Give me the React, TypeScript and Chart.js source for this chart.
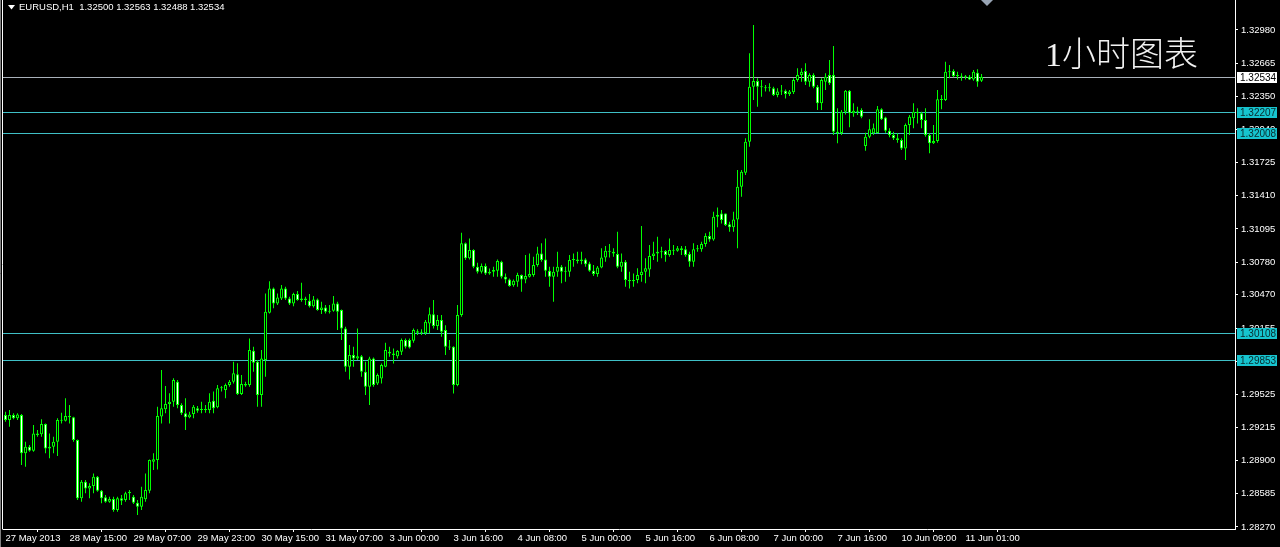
import React, { useEffect, useRef } from "react";
import { Chart, registerables } from "chart.js";

Chart.register(...registerables);

// ---------- data ----------
const symbolTitle = "EURUSD,H1";
const lastQuote = ["1.32500", "1.32563", "1.32488", "1.32534"];
const overlayTitle = "1小时图表";

const opens = [
  1.29331, 1.29284, 1.29331, 1.29300, 1.29331, 1.28968, 1.29031, 1.28993, 1.29157, 1.29149,
  1.29246, 1.29015, 1.29031, 1.29079, 1.29284, 1.29278, 1.29322, 1.29309, 1.29094, 1.28542,
  1.28699, 1.28636, 1.28658, 1.28747, 1.28614, 1.28551, 1.28510, 1.28535, 1.28431, 1.28542,
  1.28526, 1.28589, 1.28557, 1.28500, 1.28462, 1.28532, 1.28614, 1.28889, 1.28905, 1.29316,
  1.29385, 1.29436, 1.29458, 1.29647, 1.29426, 1.29347, 1.29309, 1.29340, 1.29395, 1.29379,
  1.29385, 1.29379, 1.29467, 1.29404, 1.29584, 1.29569, 1.29616, 1.29647, 1.29717, 1.29530,
  1.29625, 1.29615, 1.29941, 1.29836, 1.29520, 1.29852, 1.30301, 1.30531, 1.30389, 1.30436,
  1.30531, 1.30436, 1.30389, 1.30478, 1.30421, 1.30436, 1.30414, 1.30363, 1.30427, 1.30326,
  1.30351, 1.30310, 1.30320, 1.30389, 1.30326, 1.30152, 1.29789, 1.29899, 1.29868, 1.29889,
  1.29741, 1.29599, 1.29868, 1.29630, 1.29678, 1.29789, 1.29931, 1.29915, 1.29889, 1.29931,
  1.30041, 1.30041, 1.30035, 1.30126, 1.30111, 1.30105, 1.30199, 1.30285, 1.30174, 1.30231,
  1.30136, 1.29978, 1.29978, 1.29615, 1.30278, 1.30958, 1.30816, 1.30895, 1.30737, 1.30689,
  1.30743, 1.30673, 1.30689, 1.30699, 1.30784, 1.30642, 1.30616, 1.30560, 1.30594, 1.30658,
  1.30616, 1.30642, 1.30658, 1.30752, 1.30863, 1.30806, 1.30699, 1.30642, 1.30689, 1.30737,
  1.30689, 1.30689, 1.30800, 1.30806, 1.30790, 1.30806, 1.30768, 1.30699, 1.30667, 1.30730,
  1.30825, 1.30889, 1.30879, 1.30857, 1.30737, 1.30784, 1.30610, 1.30600, 1.30610, 1.30658,
  1.30689, 1.30711, 1.30838, 1.30863, 1.30879, 1.30885, 1.30847, 1.30895, 1.30889, 1.30911,
  1.30901, 1.30857, 1.30784, 1.30901, 1.30901, 1.30952, 1.31027, 1.30995, 1.31211, 1.31242,
  1.31240, 1.31140, 1.31110, 1.31185, 1.31495, 1.31628, 1.31922, 1.32443, 1.32497, 1.32443,
  1.32437, 1.32427, 1.32427, 1.32364, 1.32396, 1.32405, 1.32374, 1.32390, 1.32506, 1.32554,
  1.32591, 1.32490, 1.32554, 1.32443, 1.32285, 1.32490, 1.32554, 1.32554, 1.32016, 1.32005,
  1.32206, 1.32405, 1.32190, 1.32214, 1.32222, 1.31880, 1.31969, 1.32001, 1.32005, 1.32228,
  1.32151, 1.32026, 1.31985, 1.31953, 1.31937, 1.31858, 1.32080, 1.32143, 1.32206, 1.32190,
  1.32127, 1.31985, 1.31906, 1.31927, 1.32323, 1.32317, 1.32585, 1.32591, 1.32550, 1.32544,
  1.32538, 1.32538, 1.32512, 1.32575, 1.32500,
];

const highs = [
  1.29363, 1.29379, 1.29347, 1.29347, 1.29340, 1.29079, 1.29047, 1.29236, 1.29189, 1.29290,
  1.29252, 1.29157, 1.29126, 1.29300, 1.29353, 1.29489, 1.29426, 1.29315, 1.29100, 1.28715,
  1.28715, 1.28684, 1.28778, 1.28753, 1.28620, 1.28573, 1.28557, 1.28557, 1.28557, 1.28573,
  1.28605, 1.28620, 1.28573, 1.28526, 1.28652, 1.28778, 1.28910, 1.28968, 1.29410, 1.29758,
  1.29606, 1.29537, 1.29679, 1.29663, 1.29442, 1.29489, 1.29363, 1.29426, 1.29417, 1.29458,
  1.29426, 1.29537, 1.29553, 1.29616, 1.29606, 1.29631, 1.29663, 1.29837, 1.29821, 1.29710,
  1.29647, 1.30057, 1.29978, 1.29852, 1.29947, 1.30484, 1.30600, 1.30540, 1.30484, 1.30563,
  1.30547, 1.30452, 1.30490, 1.30506, 1.30585, 1.30452, 1.30478, 1.30458, 1.30436, 1.30405,
  1.30373, 1.30373, 1.30458, 1.30405, 1.30332, 1.30168, 1.29994, 1.29978, 1.30152, 1.29899,
  1.29836, 1.29883, 1.29877, 1.29725, 1.29820, 1.30016, 1.29978, 1.29962, 1.29947, 1.30057,
  1.30057, 1.30057, 1.30152, 1.30143, 1.30143, 1.30231, 1.30351, 1.30421, 1.30278, 1.30278,
  1.30183, 1.30041, 1.29984, 1.30373, 1.31059, 1.30965, 1.31005, 1.30901, 1.30775, 1.30768,
  1.30768, 1.30720, 1.30737, 1.30806, 1.30793, 1.30673, 1.30626, 1.30616, 1.30680, 1.30664,
  1.30847, 1.30863, 1.30831, 1.30926, 1.30958, 1.31005, 1.30737, 1.30737, 1.30879, 1.30752,
  1.30737, 1.30847, 1.30863, 1.30879, 1.30879, 1.30816, 1.30784, 1.30752, 1.30743, 1.30911,
  1.30933, 1.30952, 1.30911, 1.31068, 1.30863, 1.30800, 1.30689, 1.30673, 1.30721, 1.31122,
  1.30816, 1.30942, 1.30974, 1.31021, 1.30926, 1.30895, 1.31005, 1.30942, 1.30933, 1.30933,
  1.30933, 1.30879, 1.30958, 1.30942, 1.30974, 1.31053, 1.31068, 1.31258, 1.31299, 1.31274,
  1.31242, 1.31163, 1.31258, 1.31653, 1.31653, 1.31953, 1.32759, 1.33028, 1.32522, 1.32506,
  1.32459, 1.32475, 1.32443, 1.32427, 1.32459, 1.32417, 1.32411, 1.32522, 1.32617, 1.32617,
  1.32664, 1.32569, 1.32569, 1.32459, 1.32522, 1.32569, 1.32696, 1.32829, 1.32238, 1.32222,
  1.32411, 1.32411, 1.32285, 1.32253, 1.32238, 1.32007, 1.32135, 1.32095, 1.32260, 1.32238,
  1.32159, 1.32048, 1.32016, 1.32001, 1.31953, 1.32095, 1.32175, 1.32285, 1.32238, 1.32206,
  1.32238, 1.32001, 1.32080, 1.32411, 1.32364, 1.32680, 1.32648, 1.32607, 1.32585, 1.32569,
  1.32554, 1.32554, 1.32601, 1.32607, 1.32563,
];

const lows = [
  1.29268, 1.29221, 1.29290, 1.29284, 1.28857, 1.28841, 1.28984, 1.28984, 1.29126, 1.29126,
  1.28968, 1.28921, 1.28968, 1.28943, 1.29252, 1.29270, 1.29252, 1.29079, 1.28526, 1.28510,
  1.28589, 1.28542, 1.28589, 1.28605, 1.28494, 1.28500, 1.28500, 1.28415, 1.28415, 1.28478,
  1.28510, 1.28526, 1.28488, 1.28383, 1.28431, 1.28510, 1.28589, 1.28810, 1.28816, 1.29252,
  1.29347, 1.29252, 1.29410, 1.29395, 1.29331, 1.29189, 1.29300, 1.29300, 1.29353, 1.29347,
  1.29353, 1.29347, 1.29347, 1.29395, 1.29553, 1.29489, 1.29600, 1.29631, 1.29521, 1.29521,
  1.29600, 1.29599, 1.29741, 1.29410, 1.29410, 1.29694, 1.30294, 1.30342, 1.30373, 1.30421,
  1.30421, 1.30373, 1.30363, 1.30414, 1.30405, 1.30373, 1.30351, 1.30351, 1.30320, 1.30288,
  1.30294, 1.30294, 1.30310, 1.30136, 1.30041, 1.29741, 1.29668, 1.29789, 1.29852, 1.29694,
  1.29520, 1.29426, 1.29599, 1.29615, 1.29631, 1.29783, 1.29883, 1.29820, 1.29868, 1.29899,
  1.29962, 1.29962, 1.30016, 1.30089, 1.30089, 1.30089, 1.30105, 1.30152, 1.30136, 1.30073,
  1.29899, 1.29947, 1.29536, 1.29605, 1.30263, 1.30800, 1.30806, 1.30721, 1.30673, 1.30673,
  1.30657, 1.30660, 1.30642, 1.30642, 1.30626, 1.30579, 1.30547, 1.30547, 1.30547, 1.30500,
  1.30579, 1.30635, 1.30642, 1.30737, 1.30784, 1.30642, 1.30547, 1.30405, 1.30642, 1.30579,
  1.30594, 1.30642, 1.30737, 1.30768, 1.30760, 1.30737, 1.30689, 1.30648, 1.30642, 1.30721,
  1.30784, 1.30825, 1.30831, 1.30721, 1.30689, 1.30547, 1.30531, 1.30547, 1.30579, 1.30594,
  1.30579, 1.30642, 1.30800, 1.30784, 1.30816, 1.30784, 1.30831, 1.30847, 1.30879, 1.30847,
  1.30831, 1.30737, 1.30737, 1.30879, 1.30879, 1.30926, 1.30974, 1.30983, 1.31110, 1.31147,
  1.31122, 1.31068, 1.31068, 1.30911, 1.31400, 1.31606, 1.31874, 1.32317, 1.32253, 1.32348,
  1.32396, 1.32396, 1.32354, 1.32342, 1.32364, 1.32332, 1.32354, 1.32374, 1.32490, 1.32490,
  1.32459, 1.32443, 1.32427, 1.32222, 1.32222, 1.32411, 1.32459, 1.31985, 1.31906, 1.31985,
  1.32180, 1.32058, 1.32159, 1.32175, 1.32143, 1.31836, 1.31953, 1.31985, 1.32001, 1.32127,
  1.32007, 1.31963, 1.31937, 1.31912, 1.31843, 1.31748, 1.31985, 1.32048, 1.32095, 1.32048,
  1.31969, 1.31811, 1.31900, 1.31912, 1.32230, 1.32307, 1.32522, 1.32532, 1.32512, 1.32500,
  1.32512, 1.32506, 1.32500, 1.32443, 1.32488,
];

const closes = [
  1.29284, 1.29331, 1.29300, 1.29337, 1.28968, 1.29031, 1.28993, 1.29157, 1.29142, 1.29246,
  1.29015, 1.29031, 1.29079, 1.29284, 1.29278, 1.29322, 1.29309, 1.29094, 1.28542, 1.28699,
  1.28636, 1.28658, 1.28747, 1.28614, 1.28542, 1.28510, 1.28535, 1.28431, 1.28542, 1.28519,
  1.28589, 1.28605, 1.28500, 1.28462, 1.28557, 1.28620, 1.28905, 1.28911, 1.29322, 1.29395,
  1.29436, 1.29458, 1.29663, 1.29426, 1.29347, 1.29309, 1.29337, 1.29410, 1.29372, 1.29385,
  1.29379, 1.29458, 1.29395, 1.29584, 1.29594, 1.29616, 1.29647, 1.29726, 1.29530, 1.29625,
  1.29612, 1.29947, 1.29827, 1.29520, 1.29868, 1.30310, 1.30531, 1.30389, 1.30446, 1.30531,
  1.30436, 1.30389, 1.30478, 1.30421, 1.30436, 1.30421, 1.30363, 1.30427, 1.30326, 1.30351,
  1.30310, 1.30320, 1.30389, 1.30310, 1.30152, 1.29789, 1.29899, 1.29868, 1.29889, 1.29741,
  1.29599, 1.29868, 1.29615, 1.29710, 1.29805, 1.29947, 1.29915, 1.29899, 1.29937, 1.30041,
  1.29978, 1.29972, 1.30136, 1.30111, 1.30120, 1.30215, 1.30285, 1.30174, 1.30231, 1.30120,
  1.29978, 1.29972, 1.29615, 1.30278, 1.30958, 1.30816, 1.30895, 1.30737, 1.30689, 1.30743,
  1.30673, 1.30689, 1.30705, 1.30790, 1.30642, 1.30616, 1.30553, 1.30604, 1.30658, 1.30616,
  1.30648, 1.30667, 1.30752, 1.30863, 1.30800, 1.30699, 1.30642, 1.30689, 1.30737, 1.30689,
  1.30695, 1.30800, 1.30806, 1.30790, 1.30806, 1.30760, 1.30699, 1.30667, 1.30730, 1.30825,
  1.30889, 1.30879, 1.30863, 1.30737, 1.30784, 1.30610, 1.30600, 1.30610, 1.30658, 1.30689,
  1.30721, 1.30838, 1.30863, 1.30879, 1.30873, 1.30847, 1.30895, 1.30889, 1.30911, 1.30895,
  1.30847, 1.30784, 1.30901, 1.30911, 1.30952, 1.31027, 1.30995, 1.31211, 1.31227, 1.31179,
  1.31132, 1.31110, 1.31185, 1.31495, 1.31637, 1.31922, 1.32443, 1.32497, 1.32443, 1.32437,
  1.32427, 1.32433, 1.32364, 1.32396, 1.32405, 1.32374, 1.32396, 1.32506, 1.32554, 1.32585,
  1.32490, 1.32554, 1.32443, 1.32285, 1.32506, 1.32538, 1.32475, 1.32016, 1.32005, 1.32206,
  1.32405, 1.32190, 1.32214, 1.32206, 1.32159, 1.31969, 1.32040, 1.32048, 1.32228, 1.32135,
  1.32026, 1.31985, 1.31953, 1.31937, 1.31858, 1.32080, 1.32159, 1.32206, 1.32190, 1.32127,
  1.31985, 1.31906, 1.31927, 1.32323, 1.32317, 1.32585, 1.32580, 1.32544, 1.32544, 1.32538,
  1.32532, 1.32512, 1.32585, 1.32490, 1.32534,
];

const timeLabels = [
  "27 May 2013", "28 May 15:00", "29 May 07:00", "29 May 23:00", "30 May 15:00",
  "31 May 07:00", "3 Jun 00:00", "3 Jun 16:00", "4 Jun 08:00", "5 Jun 00:00",
  "5 Jun 16:00", "6 Jun 08:00", "7 Jun 00:00", "7 Jun 16:00", "10 Jun 09:00",
  "11 Jun 01:00",
];
const barsPerTimeLabel = 16;

const priceTicks = [
  1.28270, 1.28585, 1.28900, 1.29215, 1.29525, 1.29840, 1.30155, 1.30470,
  1.30780, 1.31095, 1.31410, 1.31725, 1.32040, 1.32350, 1.32665, 1.32980,
];

const bidLevel = 1.32534;
const levelLines = [1.32207, 1.32008, 1.30108, 1.29853];

// ---------- styling ----------
const W = 1280;
const H = 547;
const LIME = "#00ff00";
const FONT = '"Liberation Sans", Arial, sans-serif';
const LINE_CYAN = "#3fbfc6";
const BOX_CYAN = "#16c4cf";
const BID_GRAY = "#a9b1ba";

const Y_MAX = 1.332643;
const Y_MIN = 1.28251;
const X_MIN = -0.625;
const X_MAX = 307.375;

const decorPlugin = {
  id: "mtDecor",
  beforeDraw(chart: any) {
    const ctx = chart.ctx;
    ctx.save();
    ctx.fillStyle = "#000";
    ctx.fillRect(0, 0, chart.width, chart.height);
    ctx.restore();
  },
  beforeDatasetsDraw(chart: any) {
    const { ctx, chartArea, scales } = chart;
    const y = scales.y;
    ctx.save();
    ctx.lineWidth = 1;
    const drawLine = (v: number, color: string) => {
      const py = Math.round(y.getPixelForValue(v)) + 0.5;
      ctx.strokeStyle = color;
      ctx.beginPath();
      ctx.moveTo(chartArea.left, py);
      ctx.lineTo(chartArea.right, py);
      ctx.stroke();
    };
    levelLines.forEach((v) => drawLine(v, LINE_CYAN));
    drawLine(bidLevel, BID_GRAY);
    ctx.restore();
  },
  afterDraw(chart: any) {
    const { ctx, chartArea, scales } = chart;
    const y = scales.y;
    ctx.save();
    // frame
    ctx.strokeStyle = "#ffffff";
    ctx.lineWidth = 1;
    ctx.beginPath();
    ctx.moveTo(chartArea.left - 0.5, 0);
    ctx.lineTo(chartArea.left - 0.5, chartArea.bottom + 0.5);
    ctx.stroke();
    ctx.strokeStyle = "#808080";
    ctx.beginPath();
    ctx.moveTo(0.5, 0);
    ctx.lineTo(0.5, H);
    ctx.stroke();

    // price boxes
    ctx.font = `10px ${FONT}`;
    ctx.textBaseline = "middle";
    ctx.textAlign = "left";
    const box = (v: number, bg: string, fg: string) => {
      const py = Math.round(y.getPixelForValue(v));
      const x0 = chartArea.right + 2;
      ctx.fillStyle = bg;
      ctx.fillRect(x0, py - 5, 40, 11);
      ctx.fillStyle = fg;
      ctx.fillText(v.toFixed(5), x0 + 3, py + 1);
    };
    levelLines.forEach((v) => box(v, BOX_CYAN, "#0a2a2c"));
    box(bidLevel, "#ffffff", "#000000");

    // header
    ctx.fillStyle = "#ffffff";
    ctx.beginPath();
    ctx.moveTo(8, 5);
    ctx.lineTo(15, 5);
    ctx.lineTo(11.5, 9.5);
    ctx.closePath();
    ctx.fill();
    ctx.font = `9.5px ${FONT}`;
    ctx.textBaseline = "middle";
    ctx.fillText(`${symbolTitle}  ${lastQuote.join(" ")}`, 19, 7.5);

    // shift marker
    ctx.fillStyle = "#98a4b4";
    ctx.beginPath();
    ctx.moveTo(981, 0);
    ctx.lineTo(993, 0);
    ctx.lineTo(987, 6);
    ctx.closePath();
    ctx.fill();

    // overlay title
    ctx.fillStyle = "#f2f2f2";
    ctx.font = `300 34px "Liberation Serif", "Noto Sans CJK SC", serif`;
    ctx.textBaseline = "middle";
    ctx.fillText(overlayTitle, 1045, 57);
    ctx.restore();
  },
};

export default function App() {
  const ref = useRef<HTMLCanvasElement | null>(null);

  useEffect(() => {
    document.body.style.margin = "0";
    document.body.style.background = "#000";
    const canvas = ref.current;
    if (!canvas) return;

    const bodies = opens.map((o, i) => ({
      x: i,
      y: [Math.min(o, closes[i]), Math.max(o, closes[i])],
    }));
    const wicks = highs.map((h, i) => ({ x: i, y: [lows[i], h] }));
    const bodyFill = opens.map((o, i) => (closes[i] >= o ? "#000000" : "#ffffff"));

    const chart = new Chart(canvas, {
      type: "bar",
      data: {
        datasets: [
          {
            label: "body",
            data: bodies as any,
            backgroundColor: bodyFill,
            borderColor: LIME,
            borderWidth: 1,
            borderSkipped: false,
            barThickness: 3,
            minBarLength: 1,
            inflateAmount: 0,
            grouped: false,
          } as any,
          {
            label: "wick",
            data: wicks as any,
            backgroundColor: LIME,
            borderWidth: 0,
            barThickness: 1,
            minBarLength: 1,
            inflateAmount: 0,
            grouped: false,
          } as any,
        ],
      },
      options: {
        responsive: false,
        animation: false,
        devicePixelRatio: 1,
        events: [],
        layout: { padding: { left: 3, top: 0, right: 0, bottom: 0 } },
        plugins: { legend: { display: false }, tooltip: { enabled: false } },
        scales: {
          x: {
            type: "linear",
            min: X_MIN,
            max: X_MAX,
            offset: false,
            afterBuildTicks: (s: any) => {
              s.ticks = timeLabels.map((_, k) => ({ value: k * barsPerTimeLabel }));
            },
            afterFit: (s: any) => {
              s.height = 18;
              s.paddingLeft = 0;
              s.paddingRight = 0;
            },
            ticks: {
              color: "#ffffff",
              font: { family: FONT, size: 9.5 },
              align: "start",
              maxRotation: 0,
              minRotation: 0,
              autoSkip: false,
              padding: 1,
              callback: (_v: any, idx: number) => timeLabels[idx] ?? "",
            },
            grid: {
              display: true,
              drawOnChartArea: false,
              drawTicks: true,
              tickLength: 3,
              color: "#ffffff",
            },
            border: { display: true, color: "#ffffff" },
          },
          y: {
            type: "linear",
            position: "right",
            min: Y_MIN,
            max: Y_MAX,
            afterBuildTicks: (s: any) => {
              s.ticks = priceTicks.map((v) => ({ value: v }));
            },
            afterFit: (s: any) => {
              s.width = 45;
              s.paddingTop = 0;
              s.paddingBottom = 0;
            },
            ticks: {
              color: "#ffffff",
              font: { family: FONT, size: 9.5 },
              padding: 3,
              autoSkip: false,
              callback: (v: any) => Number(v).toFixed(5),
            },
            grid: {
              display: true,
              drawOnChartArea: false,
              drawTicks: true,
              tickLength: 3,
              color: "#ffffff",
            },
            border: { display: true, color: "#ffffff" },
          },
        },
      },
      plugins: [decorPlugin],
    });

    return () => chart.destroy();
  }, []);

  return (
    <div style={{ width: W, height: H, background: "#000" }}>
      <canvas ref={ref} width={W} height={H} style={{ display: "block", width: W, height: H }} />
    </div>
  );
}
